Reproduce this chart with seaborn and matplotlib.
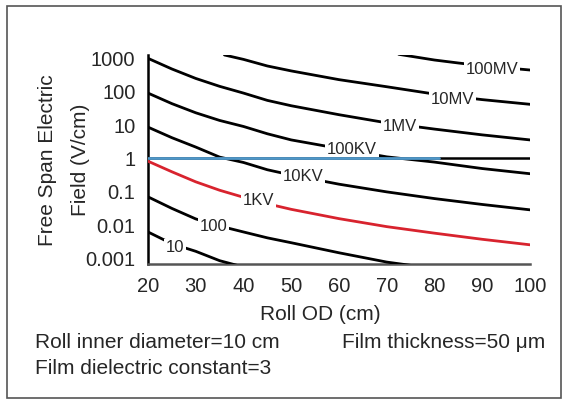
import numpy as np
import pandas as pd
import seaborn as sns
import matplotlib
matplotlib.use("Agg")
import matplotlib.pyplot as plt
from matplotlib.ticker import FixedLocator, NullLocator
from matplotlib.patches import Rectangle

# ---- data (Roll OD in cm, free span field in V/cm) ----
od_full = [20, 25, 30, 35, 40, 45, 50, 60, 70, 80, 90, 100]

field_1MV = [1000, 480, 250, 145, 91, 55, 38, 20.5, 11.7, 7.6, 5.1, 3.6]
od_10MV = [36, 40, 45, 50, 60, 70, 80, 90, 100]
field_10MV = [1260, 930, 590, 420, 230, 141, 85, 58, 42]
od_100MV = [72.5, 80, 85, 90, 100]
field_100MV = [1320, 890, 725, 600, 447]
field_100KV = [91, 44, 23.4, 13.8, 9.1, 5.5, 3.6, 2.0, 1.12, 0.78, 0.50, 0.35]
field_10KV = [8.7, 4.2, 2.2, 1.1, 0.76, 0.46, 0.32, 0.17, 0.10, 0.063, 0.042, 0.029]
field_1KV = [0.83, 0.40, 0.20, 0.112, 0.069, 0.044, 0.030, 0.0158, 0.0091, 0.0058, 0.0038, 0.0026]
od_100V = [20, 25, 30, 35, 40, 45, 50, 60, 70, 75]
field_100V = [0.071, 0.032, 0.0155, 0.0095, 0.0063, 0.0042, 0.0030, 0.0015, 0.00079, 0.00063]
od_10V = [20, 25, 30, 35, 40]
field_10V = [0.0063, 0.0028, 0.00166, 0.00087, 0.00056]

ref_od = [20, 100]
ref_field = [1, 1]
blue_od = [20, 81]
blue_field = [1, 1]

curve_labels = ["100MV", "10MV", "1MV", "100KV", "10KV", "1KV", "100", "10"]
label_x = [92, 83.7, 72.8, 62.7, 52.5, 43.2, 33.8, 25.7]
label_y = [460, 60, 8.8, 1.8, 0.28, 0.057, 0.0089, 0.0021]

x_ticks = [20, 30, 40, 50, 60, 70, 80, 90, 100]
y_ticks = [0.001, 0.01, 0.1, 1, 10, 100, 1000]
y_ticklabels = ["0.001", "0.01", "0.1", "1", "10", "100", "1000"]

curves = [
    ("1MV", od_full, field_1MV, "black"),
    ("10MV", od_10MV, field_10MV, "black"),
    ("100MV", od_100MV, field_100MV, "black"),
    ("100KV", od_full, field_100KV, "black"),
    ("10KV", od_full, field_10KV, "black"),
    ("1KV", od_full, field_1KV, "#d8232e"),
    ("100", od_100V, field_100V, "black"),
    ("10", od_10V, field_10V, "black"),
]

sns.set_style("white")
plt.rcParams["font.family"] = ["Liberation Sans", "DejaVu Sans"]

fig = plt.figure(figsize=(5.71, 4.04), dpi=100)
ax = fig.add_axes([148 / 571, 1 - 264 / 404, 382 / 571, 209 / 404])
ax.set_yscale("log")

for name, xs, ys, col in curves:
    df = pd.DataFrame({"od": xs, "field": ys})
    sns.lineplot(data=df, x="od", y="field", ax=ax, color=col, lw=2.0,
                 zorder=4, estimator=None, sort=False)

for lab, lx, ly in zip(curve_labels, label_x, label_y):
    ax.text(lx, ly, lab, ha="center", va="center", fontsize=12, zorder=6,
            bbox=dict(boxstyle="square,pad=0.1", fc="white", ec="none"))

# reference line at 1 V/cm (drawn above the labels)
ref_df = pd.DataFrame({"od": ref_od, "field": ref_field})
sns.lineplot(data=ref_df, x="od", y="field", ax=ax, color="black", lw=1.8, zorder=7)
blue_df = pd.DataFrame({"od": blue_od, "field": blue_field})
sns.lineplot(data=blue_df, x="od", y="field", ax=ax, color="#4f97c8", lw=2.0, zorder=8)

ax.set_xlim(20, 100)
ax.set_ylim(10 ** -3.16, 10 ** 3.1)
ax.xaxis.set_major_locator(FixedLocator(x_ticks))
ax.set_xticklabels([str(t) for t in x_ticks])
ax.yaxis.set_major_locator(FixedLocator(y_ticks))
ax.yaxis.set_minor_locator(NullLocator())
ax.set_yticklabels(y_ticklabels)
ax.tick_params(axis="x", length=0, pad=9, labelsize=14.5)
ax.tick_params(axis="y", length=0, pad=9, labelsize=14.5)
ax.set_xlabel("")
ax.set_ylabel("")

for s in ["top", "right"]:
    ax.spines[s].set_visible(False)
ax.spines["left"].set_color("black")
ax.spines["left"].set_linewidth(1.8)
ax.spines["bottom"].set_color("#555555")
ax.spines["bottom"].set_linewidth(1.8)

fig.text(320 / 571, 1 - 314 / 404, "Roll OD (cm)", ha="center", va="center", fontsize=15)
fig.text(48 / 571, 1 - 160 / 404, "Free Span Electric", ha="center", va="center",
         rotation=90, fontsize=15)
fig.text(80 / 571, 1 - 160 / 404, "Field (V/cm)", ha="center", va="center",
         rotation=90, fontsize=15)

fig.text(35 / 571, 1 - 342 / 404, "Roll inner diameter=10 cm", ha="left", va="center", fontsize=15)
fig.text(545 / 571, 1 - 342 / 404, "Film thickness=50 \u03bcm", ha="right", va="center", fontsize=15)
fig.text(35 / 571, 1 - 369 / 404, "Film dielectric constant=3", ha="left", va="center", fontsize=15)

fig.patches.append(Rectangle((7 / 571, 6 / 404), 554 / 571, 392 / 404, transform=fig.transFigure,
                             fill=False, ec="#555555", lw=1.2))

fig.savefig("out.png", dpi=100)
